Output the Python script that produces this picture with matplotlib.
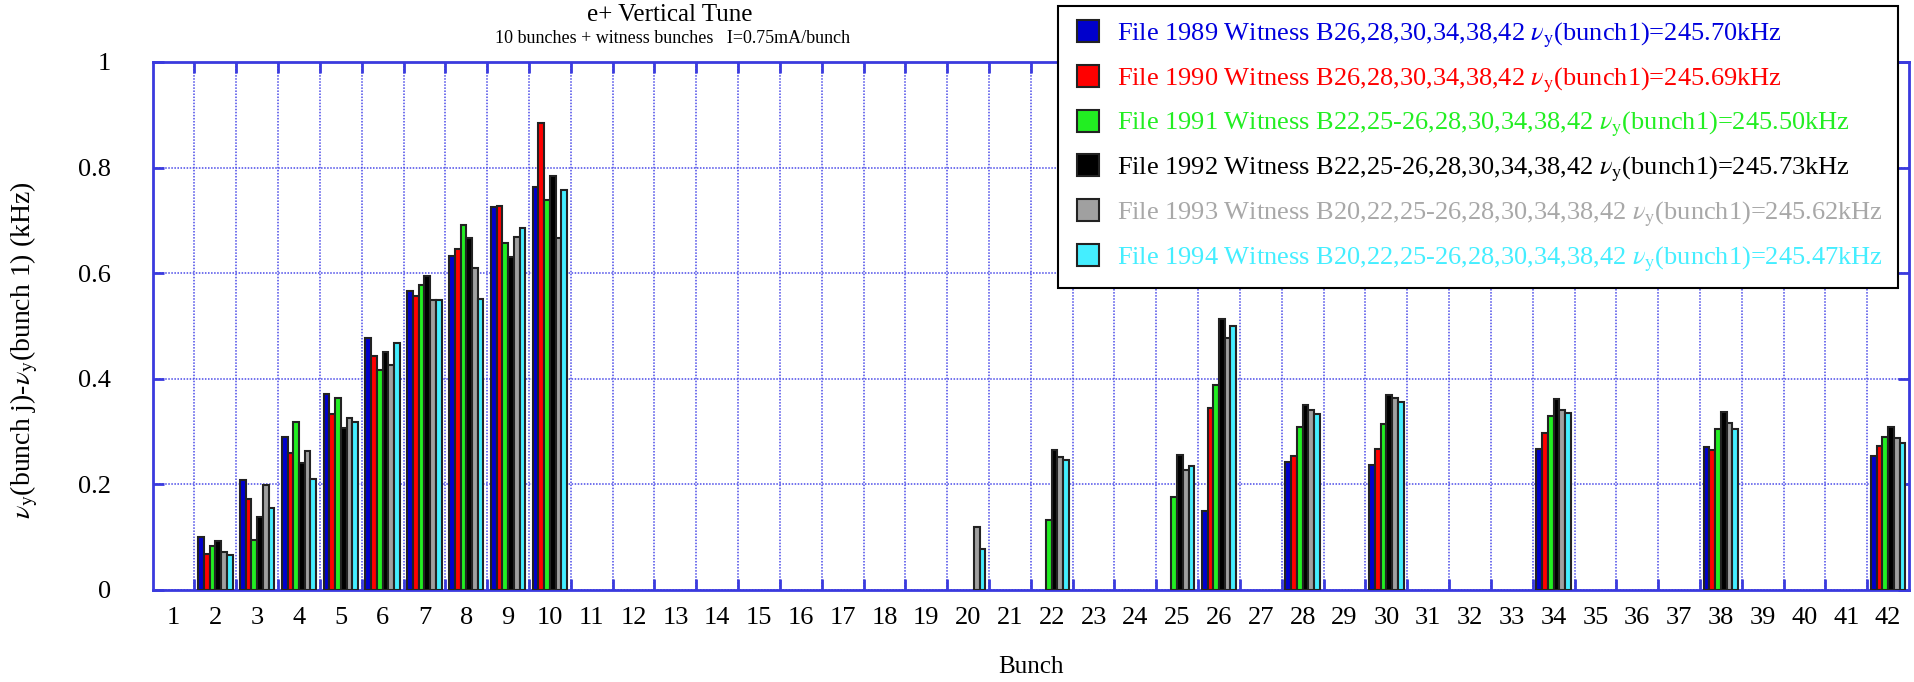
import numpy as np
import matplotlib
matplotlib.use("Agg")
import matplotlib.pyplot as plt
from matplotlib.ticker import FixedLocator, NullFormatter
from matplotlib.lines import Line2D

plt.rcParams['font.family'] = ['Liberation Serif', 'DejaVu Serif']
plt.rcParams['mathtext.fontset'] = 'stix'

# Data
bunches = [2, 3, 4, 5, 6, 7, 8, 9, 10, 20, 22, 25, 26, 28, 30, 34, 38, 42]
f1989 = [0.100, 0.208, 0.289, 0.372, 0.477, 0.566, 0.633, 0.725, 0.763,
         None, None, None, 0.150, 0.242, 0.237, 0.267, 0.270, 0.253]
f1990 = [0.069, 0.172, 0.259, 0.333, 0.444, 0.556, 0.645, 0.727, 0.885,
         None, None, None, 0.345, 0.253, 0.267, 0.297, 0.266, 0.273]
f1991 = [0.083, 0.095, 0.319, 0.363, 0.417, 0.578, 0.691, 0.658, 0.739,
         None, 0.133, 0.176, 0.389, 0.309, 0.314, 0.330, 0.305, 0.289]
f1992 = [0.092, 0.139, 0.240, 0.306, 0.450, 0.595, 0.667, 0.631, 0.785,
         None, 0.265, 0.256, 0.513, 0.350, 0.370, 0.362, 0.337, 0.309]
f1993 = [0.072, 0.198, 0.264, 0.325, 0.427, 0.549, 0.609, 0.669, 0.667,
         0.119, 0.251, 0.228, 0.478, 0.340, 0.364, 0.341, 0.317, 0.287]
f1994 = [0.067, 0.155, 0.211, 0.319, 0.467, 0.549, 0.552, 0.686, 0.758,
         0.078, 0.247, 0.234, 0.500, 0.333, 0.356, 0.336, 0.305, 0.278]

labels = [
    r"File 1989 Witness B26,28,30,34,38,42 $\nu_{\mathrm{y}}$(bunch1)=245.70kHz",
    r"File 1990 Witness B26,28,30,34,38,42 $\nu_{\mathrm{y}}$(bunch1)=245.69kHz",
    r"File 1991 Witness B22,25-26,28,30,34,38,42 $\nu_{\mathrm{y}}$(bunch1)=245.50kHz",
    r"File 1992 Witness B22,25-26,28,30,34,38,42 $\nu_{\mathrm{y}}$(bunch1)=245.73kHz",
    r"File 1993 Witness B20,22,25-26,28,30,34,38,42 $\nu_{\mathrm{y}}$(bunch1)=245.62kHz",
    r"File 1994 Witness B20,22,25-26,28,30,34,38,42 $\nu_{\mathrm{y}}$(bunch1)=245.47kHz",
]
series = [f1989, f1990, f1991, f1992, f1993, f1994]
colors = ["#0000cc", "#ff0000", "#22ee22", "#000000", "#a0a0a0", "#44eeff"]
text_colors = ["#0000dd", "#ff0000", "#22ee22", "#000000", "#a8a8a8", "#44eeff"]

axis_blue = "#3a3ade"
grid_blue = "#4a4ae8"

fig = plt.figure(figsize=(19.15, 6.82), dpi=100)
ax = fig.add_axes([0.0797, 0.1349, 0.9172, 0.7742])

bw = 0.137
for i, (vals, col) in enumerate(zip(series, colors)):
    xs = [b + (i - 2.5) * bw for b, v in zip(bunches, vals) if v is not None]
    ys = [v for v in vals if v is not None]
    ax.bar(xs, ys, width=bw, color=col, edgecolor="#222222", linewidth=1.5, zorder=3)

ax.set_xlim(0.5, 42.5)
ax.set_ylim(0, 1)

# category labels at centres, grid/ticks at boundaries
ax.xaxis.set_major_locator(FixedLocator(np.arange(1, 43)))
ax.set_xticklabels([str(i) for i in range(1, 43)])
ax.xaxis.set_minor_locator(FixedLocator(np.arange(1.5, 42, 1.0)))
ax.xaxis.set_minor_formatter(NullFormatter())
ax.tick_params(axis="x", which="major", length=0, pad=12, labelsize=19)
ax.tick_params(axis="x", which="minor", direction="in", length=8, width=2,
               color=axis_blue, top=True, bottom=True)

ax.set_yticks([0, 0.2, 0.4, 0.6, 0.8, 1.0])
ax.set_yticklabels(["0", "0.2", "0.4", "0.6", "0.8", "1"])
ax.tick_params(axis="y", direction="in", length=8, width=2, color=axis_blue,
               left=True, right=True, pad=30, labelsize=19)

ax.grid(True, axis="x", which="minor", color=grid_blue, linestyle=(0, (1, 1)), linewidth=1.1)
ax.grid(True, axis="y", which="major", color=grid_blue, linestyle=(0, (1, 1)), linewidth=1.1)
ax.set_axisbelow(True)

for sp in ax.spines.values():
    sp.set_color(axis_blue)
    sp.set_linewidth(2)

ax.set_ylabel(r"$\nu_{\mathrm{y}}$(bunch j)-$\nu_{\mathrm{y}}$(bunch 1) (kHz)", fontsize=20)
ax.yaxis.set_label_coords(-0.064, 0.455)
ax.set_xlabel("Bunch", fontsize=18)
ax.xaxis.set_label_coords(0.5, -0.125)

fig.text(0.35, 0.978, "e+ Vertical Tune", ha="center", va="center", fontsize=18)
fig.text(0.351, 0.943, "10 bunches + witness bunches   I=0.75mA/bunch", ha="center",
         va="center", fontsize=13)

handles = [Line2D([], [], marker="s", linestyle="none", markersize=16,
                  markerfacecolor=c, markeredgecolor="#222222", markeredgewidth=1.5)
           for c in colors]
leg = fig.legend(handles, labels, loc="upper right", bbox_to_anchor=(0.991, 0.991),
                 fontsize=19, frameon=True, fancybox=False, framealpha=1,
                 edgecolor="black", handletextpad=0.5, labelspacing=0.58,
                 borderpad=0.55, handlelength=1.2, borderaxespad=0)
leg.get_frame().set_linewidth(1.5)
for t, c in zip(leg.get_texts(), text_colors):
    t.set_color(c)

fig.savefig("out.png", dpi=100)
